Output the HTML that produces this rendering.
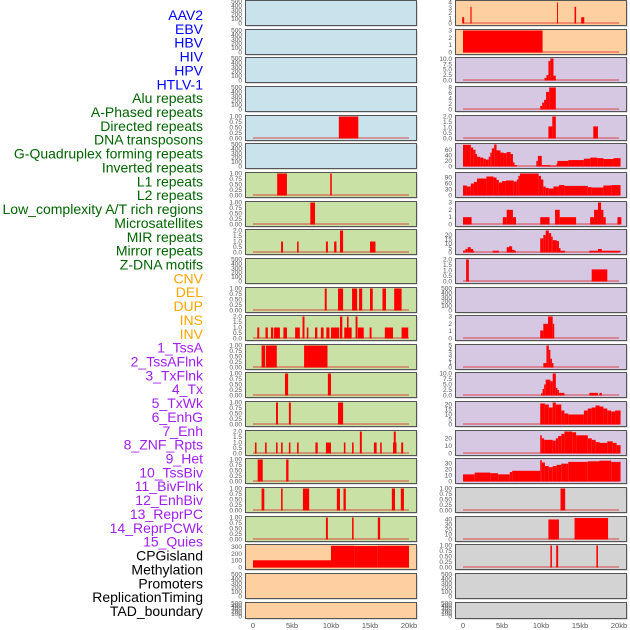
<!DOCTYPE html>
<html><head><meta charset="utf-8">
<style>
html,body{margin:0;padding:0;background:#fff;width:630px;height:630px;overflow:hidden}
svg{display:block;font-family:"Liberation Sans",sans-serif}
</style></head>
<body>
<svg id="chart" width="630" height="630" viewBox="0 0 630 630"></svg>
<script>
// ---- track labels ----
const labelTexts = ["AAV2","EBV","HBV","HIV","HPV","HTLV-1","Alu repeats","A-Phased repeats","Directed repeats","DNA transposons","G-Quadruplex forming repeats","Inverted repeats","L1 repeats","L2 repeats","Low_complexity A/T rich regions","Microsatellites","MIR repeats","Mirror repeats","Z-DNA motifs","CNV","DEL","DUP","INS","INV","1_TssA","2_TssAFlnk","3_TxFlnk","4_Tx","5_TxWk","6_EnhG","7_Enh","8_ZNF_Rpts","9_Het","10_TssBiv","11_BivFlnk","12_EnhBiv","13_ReprPC","14_ReprPCWk","15_Quies","CPGisland","Methylation","Promoters","ReplicationTiming","TAD_boundary"];
const labelGroups = [6,13,5,15,5];
const groupColors = ["#0000ff","#006400","#ffa500","#a020f0","#000000"];
const xTickValues = [0,5,10,15,20];
const xTickLabels = ["0","5kb","10kb","15kb","20kb"];

// ---- y tick sets ----
const ticksEmpty = ["0","100","200","300","400","500"];
const ticksUnit = ["0.00","0.25","0.50","0.75","1.00"];
const ticksTwo = ["0.0","0.5","1.0","1.5","2.0"];

// ---- left column data: [startKb, endKb, value] ----
const leftDirected = [[11,13.5,1]];
const leftL1 = [[3.1,4.35,1],[9.9,10.1,1]];
const leftLowComplexity = [[7.35,7.95,1]];
const leftMIR = [[3.6,3.85,1],[5.65,5.85,1],[9.35,9.6,1],[10.4,10.7,1],[11.15,11.55,2],[15,15.7,1]];
const leftDEL = [[9.2,9.45,1],[10.9,11.55,1],[12.7,13.35,1],[13.6,14,1],[15,15.35,1],[16.6,17.05,1],[18.1,19.05,1]];
const leftINS = [[0.55,0.8,1],[1.6,1.9,1],[2.3,2.6,1],[2.7,3.45,1],[3.9,4.35,1],[5.4,6,1],[6.35,6.6,2],[6.9,7.1,1],[7.95,8.25,1],[8.7,9.05,1],[9.4,9.8,1],[10,11.05,1],[11.15,11.45,2],[11.7,12.65,1],[12.05,12.25,2],[13.15,13.4,2],[13.45,14.2,1],[14.95,15.2,1],[16.9,17.95,1],[19.05,19.9,1]];
const leftTssAFlnk = [[1.1,1.55,1],[1.65,3.05,1],[6.55,9.55,1]];
const leftTx = [[4.1,4.5,1],[9.6,10,1]];
const leftEnhG = [[2.95,3.2,1],[4.6,4.85,1],[10.9,11.55,1]];
const leftZNF = [[0.25,0.45,1],[1.55,1.75,1],[2.95,3.15,1],[3.6,3.8,1],[4.6,4.8,1],[5.65,5.85,1],[8,8.3,1],[9.35,10,1],[11.65,11.85,1],[12.7,12.9,1],[13.7,13.95,2],[15.5,15.85,1],[16.3,16.5,1],[17.95,18.4,1],[18.05,18.3,2],[19,19.25,1]];
const leftTssBiv = [[0.6,1.25,1],[4.25,4.55,1]];
const leftEnhBiv = [[1.1,1.45,1],[3.6,3.8,1],[6.4,7.2,1],[10.75,11.15,1],[11.6,11.9,1],[17.8,18.2,1],[18.95,19.35,1]];
const leftReprPCWk = [[9.35,9.6,1],[12.7,12.9,1],[16,16.3,1]];
const leftCPG = [[0,10,105],[10,13,315],[13,16,312],[16,20,316]];

// ---- right column data ----
const rightAAV2 = [[-0.1,0.15,1.2],[0.95,1.1,3.2],[12.05,12.15,4],[14.3,14.5,3.2],[15.15,15.55,1.2]];
const rightEBV = [[0,10.2,3]];
const rightHIV = [[10.45,10.7,1.2],[10.7,10.95,2.5],[10.95,11.2,9],[11.2,11.6,10.2],[11.6,11.9,2.2]];
const rightAlu = [[9.9,10.15,1.3],[10.15,10.4,2.5],[10.4,10.65,3.5],[10.65,11.05,6.4],[11.05,11.9,8]];
const rightDirected = [[10.95,11.45,1.1],[11.45,11.9,2],[16.7,17.3,1.1]];
const rightGQuad = [[0,1,78],[1,1.3,68],[1.3,1.6,60],[1.6,1.8,45],[1.8,2.2,35],[2.2,2.6,32],[2.6,2.9,28],[2.9,3.3,25],[3.3,3.5,35],[3.5,3.7,50],[3.7,4,65],[4,4.3,79],[4.3,4.8,58],[4.8,5.2,50],[5.2,5.6,48],[5.6,6.1,52],[6.1,6.4,45],[6.4,6.6,15],[6.6,6.9,5],[9.4,9.6,20],[9.6,10.1,38],[10.1,11.2,5],[11.2,12,3],[12,12.1,10],[12.1,13.5,20],[13.5,15.5,23],[15.5,16.3,28],[16.3,17.2,32],[17.2,18,30],[18,19.3,27],[19.3,20.2,30]];
const rightL1 = [[0,0.5,50],[0.5,1,45],[1,1.4,60],[1.4,1.8,68],[1.8,3,85],[3,3.9,95],[3.9,4.3,90],[4.3,4.6,78],[4.6,5,65],[5,5.5,72],[5.5,6.5,75],[6.5,6.9,70],[6.9,7.1,80],[7.1,7.3,98],[7.3,9.7,110],[9.7,10,98],[10,10.3,80],[10.3,10.6,45],[10.6,11,38],[11,11.6,35],[11.6,12.3,45],[12.3,13,52],[13,16,48],[16,16.5,42],[16.5,18,40],[18,19,50],[19,20.2,52]];
const rightLowComplexity = [[0,1.1,1],[5.1,5.6,1],[5.6,6.4,2],[6.4,6.8,1],[9.9,11.1,1],[11.8,12.4,2],[12.4,14.5,1],[16.3,16.8,1],[16.8,17.3,2],[17.3,17.7,3],[17.7,18,2],[18,18.3,1],[19.8,20.3,1]];
const rightMIR = [[0,0.3,2],[0.3,0.6,4],[0.6,1,6],[1,1.3,4],[1.3,1.4,2],[3.8,4.6,2],[5.6,5.9,6],[5.9,6.3,7],[6.3,6.6,3],[6.6,6.8,2],[9.9,10.3,16],[10.3,10.6,20],[10.6,11,25],[11,11.3,22],[11.3,11.5,18],[11.5,12,14],[12,12.3,13],[12.3,12.5,5],[12.5,13.1,2],[16.2,17.3,2],[17.3,17.8,4],[17.8,20.2,2]];
const rightZDNA = [[0.4,0.75,2],[16.5,18.5,1.1]];
const rightINS = [[9.9,10.3,1.1],[10.3,10.9,2],[10.9,11.5,3],[11.5,11.7,2]];
const rightTssAFlnk = [[10.3,10.7,1],[10.7,11,5],[11,11.2,4],[11.2,11.4,2],[11.4,11.6,1]];
const rightTx = [[10,10.2,1],[10.2,10.4,3],[10.4,10.6,5],[10.6,11.2,7.2],[11.2,11.5,6.5],[11.5,11.9,10],[11.9,12.1,3.5],[12.1,12.3,2.5],[12.3,13,1.2],[16.2,17.3,1.2],[17.5,17.8,1.2]];
const rightEnhG = [[9.9,10.5,21],[10.5,11,20],[11,11.5,17],[11.5,11.9,22],[11.9,12.6,20],[12.6,13,14],[13,13.5,11],[13.5,15.5,10],[15.5,16,14],[16,16.5,16],[16.5,17,17],[17,17.5,19],[17.5,18,18],[18,18.5,16],[18.5,19,14],[19,19.5,13],[19.5,20.2,14]];
const rightZNF = [[9.9,10.1,24],[10.1,10.4,20],[10.4,11.5,18],[11.5,11.9,17],[11.9,12.2,20],[12.2,12.6,23],[12.6,13,26],[13,14,29],[14,14.5,28],[14.5,16,24],[16,16.5,20],[16.5,17,18],[17,17.5,15],[17.5,18.5,14],[18.5,19.2,16],[19.2,19.7,14],[19.7,20.2,11]];
const rightTssBiv = [[0,1.5,12],[1.5,3.5,15],[3.5,4.5,14],[4.5,6,12],[6,6.3,16],[6.3,9.9,18],[9.9,10.1,36],[10.1,10.5,32],[10.5,11,26],[11,11.5,24],[11.5,12,26],[12,12.6,28],[12.6,13.5,30],[13.5,16,33],[16,17.5,34],[17.5,19,35],[19,20.2,33]];
const rightEnhBiv = [[12.5,13.1,1]];
const rightReprPCWk = [[10.95,12.3,40],[14.3,18.6,43]];
const rightCPG = [[11.2,11.4,1],[11.95,12.2,1],[17.1,17.3,1]];

const BLUE="#c8e3eb", GREEN="#c9e1a5", ORANGE="#ffd09f", PURPLE="#d6c7e2", GRAY="#d3d3d3";
const leftPanels = [
 {n:"aav2",bg:BLUE,d:[],ymax:500,t:ticksEmpty},
 {n:"ebv",bg:BLUE,d:[],ymax:500,t:ticksEmpty},
 {n:"hiv",bg:BLUE,d:[],ymax:500,t:ticksEmpty},
 {n:"alu",bg:BLUE,d:[],ymax:500,t:ticksEmpty},
 {n:"directed",bg:BLUE,d:leftDirected,ymax:1,t:ticksUnit},
 {n:"gquad",bg:BLUE,d:[],ymax:500,t:ticksEmpty},
 {n:"l1",bg:GREEN,d:leftL1,ymax:1,t:ticksUnit},
 {n:"lowcomplexity",bg:GREEN,d:leftLowComplexity,ymax:1,t:ticksUnit},
 {n:"mir",bg:GREEN,d:leftMIR,ymax:2,t:ticksTwo},
 {n:"zdna",bg:GREEN,d:[],ymax:500,t:ticksEmpty},
 {n:"del",bg:GREEN,d:leftDEL,ymax:1,t:ticksUnit},
 {n:"ins",bg:GREEN,d:leftINS,ymax:2,t:ticksTwo},
 {n:"tssaflnk",bg:GREEN,d:leftTssAFlnk,ymax:1,t:ticksUnit},
 {n:"tx",bg:GREEN,d:leftTx,ymax:1,t:ticksUnit},
 {n:"enhg",bg:GREEN,d:leftEnhG,ymax:1,t:ticksUnit},
 {n:"znf",bg:GREEN,d:leftZNF,ymax:2,t:ticksTwo},
 {n:"tssbiv",bg:GREEN,d:leftTssBiv,ymax:1,t:ticksUnit},
 {n:"enhbiv",bg:GREEN,d:leftEnhBiv,ymax:1,t:ticksUnit},
 {n:"reprpcwk",bg:GREEN,d:leftReprPCWk,ymax:1,t:ticksUnit},
 {n:"cpg",bg:ORANGE,d:leftCPG,ymax:320,t:["0","100","200","300"],step:100},
 {n:"promoters",bg:ORANGE,d:[],ymax:500,t:ticksEmpty},
 {n:"tad",bg:ORANGE,d:[],ymax:500,t:ticksEmpty}
];
const rightPanels = [
 {n:"aav2",bg:ORANGE,d:rightAAV2,ymax:4.2,t:["0","1","2","3","4"],step:1},
 {n:"ebv",bg:ORANGE,d:rightEBV,ymax:3,t:["0","1","2","3"],step:1},
 {n:"hiv",bg:PURPLE,d:rightHIV,ymax:10.2,t:["0.0","2.5","5.0","7.5","10.0"],step:2.5},
 {n:"alu",bg:PURPLE,d:rightAlu,ymax:8,t:["0","2","4","6","8"],step:2},
 {n:"directed",bg:PURPLE,d:rightDirected,ymax:2,t:ticksTwo},
 {n:"gquad",bg:PURPLE,d:rightGQuad,ymax:79,t:["0","20","40","60"],step:20},
 {n:"l1",bg:PURPLE,d:rightL1,ymax:110,t:["0","30","60","90"],step:30},
 {n:"lowcomplexity",bg:PURPLE,d:rightLowComplexity,ymax:3,t:["0","1","2","3"],step:1},
 {n:"mir",bg:PURPLE,d:rightMIR,ymax:25,t:["0","5","10","15","20"],step:5},
 {n:"zdna",bg:PURPLE,d:rightZDNA,ymax:2,t:ticksTwo},
 {n:"del",bg:PURPLE,d:[],ymax:500,t:ticksEmpty},
 {n:"ins",bg:PURPLE,d:rightINS,ymax:3,t:["0","1","2","3"],step:1},
 {n:"tssaflnk",bg:PURPLE,d:rightTssAFlnk,ymax:5,t:["0","1","2","3","4","5"],step:1},
 {n:"tx",bg:PURPLE,d:rightTx,ymax:10,t:["0.0","2.5","5.0","7.5","10.0"],step:2.5},
 {n:"enhg",bg:PURPLE,d:rightEnhG,ymax:22,t:["0","5","10","15","20"],step:5},
 {n:"znf",bg:PURPLE,d:rightZNF,ymax:29,t:["0","10","20"],step:10},
 {n:"tssbiv",bg:PURPLE,d:rightTssBiv,ymax:37,t:["0","10","20","30"],step:10},
 {n:"enhbiv",bg:GRAY,d:rightEnhBiv,ymax:1,t:ticksUnit},
 {n:"reprpcwk",bg:GRAY,d:rightReprPCWk,ymax:44,t:["0","10","20","30","40"],step:10},
 {n:"cpg",bg:GRAY,d:rightCPG,ymax:1,t:ticksUnit},
 {n:"promoters",bg:GRAY,d:[],ymax:500,t:ticksEmpty},
 {n:"tad",bg:GRAY,d:[],ymax:500,t:ticksEmpty}
];

const NS="http://www.w3.org/2000/svg";
const svg=document.getElementById('chart');
function mk(tag,attrs,parent){const e=document.createElementNS(NS,tag);for(const k in attrs)e.setAttribute(k,attrs[k]);(parent||svg).appendChild(e);return e;}

// labels
let li=0;
labelGroups.forEach((cnt,g)=>{for(let k=0;k<cnt;k++){
  const t=mk('text',{x:203,y:(20+li*13.86).toFixed(1),'text-anchor':'end','font-size':'14',fill:groupColors[g]});
  t.textContent=labelTexts[li];
  
  
  li++;}});

function rowTop(i){return Math.round(i*28.65);}
function rowH(i){return i===21?16:25;}

function drawColumn(panels,px,side){
  const pw=171, x0=px+8, kbW=7.8;
  const xs=kb=>x0+kb*kbW;
  panels.forEach((p,i)=>{
    const top=rowTop(i), h=rowH(i);
    const g=mk('g',{});
    
    
    mk('rect',{x:px+1.5,y:top+1.5,width:pw,height:h,fill:'#bbb'},g);
    mk('rect',{x:px+0.5,y:top+0.5,width:pw,height:h,fill:p.bg,stroke:'#555','stroke-width':1},g);
    const yb=top+h-1.5, yt=top+1.5;
    const ys=v=>yb-(v/p.ymax)*(yb-yt);
    // y ticks
    const step=p.step!==undefined?p.step:(p.t===ticksEmpty?100:(p.t===ticksUnit?0.25:0.5));
    p.t.forEach((lab,k)=>{
      const tt=mk('text',{x:px-3,y:(ys(k*step)+2).toFixed(1),'text-anchor':'end','font-size':'6.5',fill:'#555'},g);
      tt.textContent=lab;
      
      
    });
    if(p.d.length){
      const bl=mk('line',{x1:xs(0),x2:xs(20),y1:yb-0.5,y2:yb-0.5,stroke:'rgba(220,40,40,0.55)','stroke-width':1.5},g);
      
      
    }
    p.d.forEach(s=>{
      const x1=Math.max(px+1,xs(s[0])), x2=Math.min(px+pw,xs(s[1]));
      const y=Math.max(yt-0.5,ys(s[2]));
      const r=mk('rect',{x:x1.toFixed(2),y:y.toFixed(2),width:Math.max(1,x2-x1).toFixed(2),height:(yb-y).toFixed(2),fill:'#ff0000'},g);
      
      
    });
  });
  xTickValues.forEach((v,k)=>{
    const t=mk('text',{x:xs(v),y:628,'text-anchor':'middle','font-size':'7.5',fill:'#555'});
    t.textContent=xTickLabels[k];
    
    
  });
}
drawColumn(leftPanels,245,'left');
drawColumn(rightPanels,455,'right');
</script>
</body></html>
